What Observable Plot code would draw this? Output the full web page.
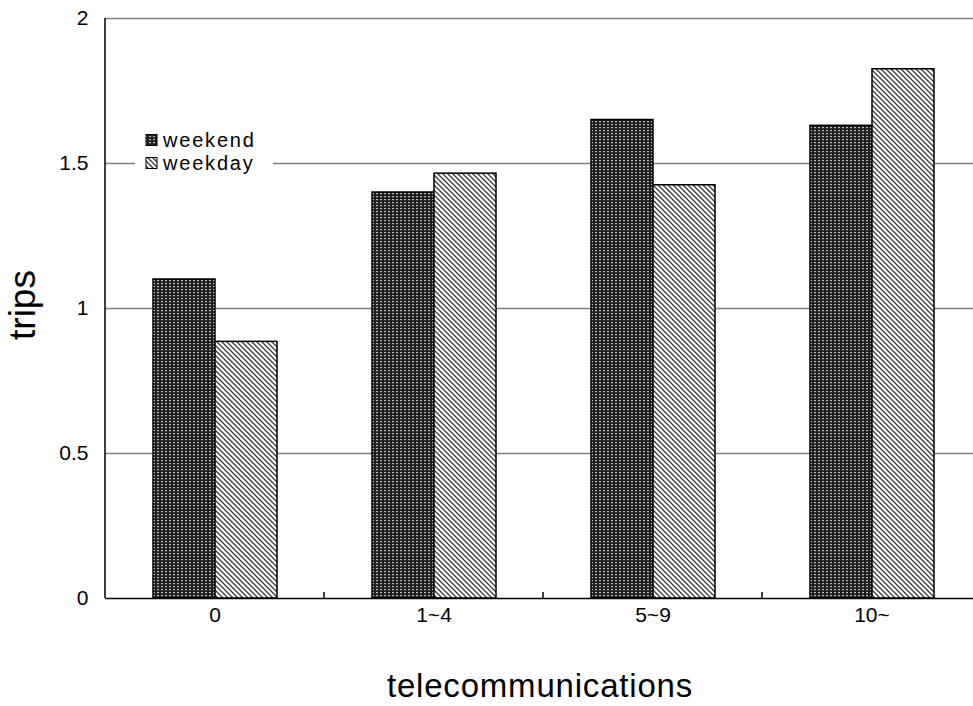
<!DOCTYPE html>
<html><head><meta charset="utf-8">
<script src="https://cdn.jsdelivr.net/npm/d3@7"></script>
<script src="https://cdn.jsdelivr.net/npm/@observablehq/plot@0.6"></script>
<style>body{margin:0;background:#fff}</style>
</head><body><div id="chart"></div>
<script>
const categories = ["0", "1~4", "5~9", "10~"];
const series = ["weekend", "weekday"];
const weekend = [1.10, 1.40, 1.65, 1.63];
const weekday = [0.885, 1.465, 1.425, 1.825];
const yTicks = [0, 0.5, 1, 1.5, 2];
const yTickLabels = ["0", "0.5", "1", "1.5", "2"];
const xTitle = "telecommunications";
const yTitle = "trips";

const rows = categories.flatMap((c, i) => [
  {category: c, series: "weekend", value: weekend[i]},
  {category: c, series: "weekday", value: weekday[i]}
]);

const W = 973, H = 706, mL = 105, mT = 18, mB = 108;
const font = "'Liberation Sans', Arial, sans-serif";

const svg = Plot.plot({
  width: W, height: H,
  marginLeft: mL, marginRight: 0, marginTop: mT, marginBottom: mB,
  style: {fontFamily: font, fontSize: "21px", color: "#000", background: "#fff", overflow: "hidden"},
  fx: {domain: categories, range: [mL, 981], padding: 0, label: null, tickSize: 0, tickPadding: 9, axis: "bottom"},
  x: {domain: series, paddingInner: 0, paddingOuter: 0.74, axis: null},
  y: {domain: [0, 2], ticks: yTicks, tickFormat: d => yTickLabels[yTicks.indexOf(d)], tickSize: 0, tickPadding: 17, label: null},
  marks: [
    Plot.ruleY(yTicks.slice(1), {stroke: "#808080", strokeWidth: 1.5}),
    Plot.barY(rows.filter(d => d.series === "weekend"), {fx: "category", x: "series", y: "value", fill: "url(#pat-weekend)", stroke: "#000", strokeWidth: 1.5}),
    Plot.barY(rows.filter(d => d.series === "weekday"), {fx: "category", x: "series", y: "value", fill: "url(#pat-weekday)", stroke: "#000", strokeWidth: 1.5}),
    Plot.ruleY([0], {stroke: "#000", strokeWidth: 1.5})
  ]
});

const s = d3.select(svg);
const defs = s.insert("defs", ":first-child");
const pw = defs.append("pattern").attr("id", "pat-weekend").attr("patternUnits", "userSpaceOnUse").attr("width", 4).attr("height", 3);
pw.append("rect").attr("width", 4).attr("height", 3).attr("fill", "#1e1e1e");
pw.append("rect").attr("x", 1).attr("y", 1).attr("width", 2).attr("height", 1.2).attr("fill", "#bdbdbd");
const pd = defs.append("pattern").attr("id", "pat-weekday").attr("patternUnits", "userSpaceOnUse").attr("width", 5).attr("height", 5);
pd.append("rect").attr("width", 5).attr("height", 5).attr("fill", "#fff");
pd.append("path").attr("d", "M-1,-1L6,6M-1,4L1,6M4,-1L6,1").attr("stroke", "#3a3a3a").attr("stroke-width", 1.3);

const y = svg.scale("y");
const fx = svg.scale("fx");
const y0 = y.apply(0), y2 = y.apply(2);

// left axis line
s.append("line").attr("x1", mL).attr("x2", mL).attr("y1", y2).attr("y2", y0).attr("stroke", "#000").attr("stroke-width", 1.5);
// category boundary ticks
categories.slice(1).forEach(c => {
  const x = fx.apply(c);
  s.append("line").attr("x1", x).attr("x2", x).attr("y1", y0 - 6).attr("y2", y0).attr("stroke", "#000").attr("stroke-width", 1.5);
});

// legend
const lg = s.append("g").attr("font-family", font).attr("font-size", 20).attr("text-anchor", "start").attr("letter-spacing", "1.8px");
lg.append("rect").attr("x", 135).attr("y", 128).attr("width", 138).attr("height", 46).attr("fill", "#fff");
series.forEach((name, i) => {
  const cy = 140 + i * 23;
  lg.append("rect").attr("x", 146).attr("y", cy - 5.5).attr("width", 11).attr("height", 11)
    .attr("fill", `url(#pat-${name})`).attr("stroke", "#000").attr("stroke-width", 1);
  lg.append("text").attr("x", 163).attr("y", cy).attr("dy", "0.35em").text(name);
});

// axis titles
s.append("text").attr("transform", "translate(35,305) rotate(-90)").attr("text-anchor", "middle")
  .attr("font-family", font).attr("font-size", 37).text(yTitle);
s.append("text").attr("x", 540).attr("y", 697).attr("text-anchor", "middle").attr("letter-spacing", "0.8px")
  .attr("font-family", font).attr("font-size", 33).text(xTitle);

document.getElementById("chart").appendChild(svg);
</script>
</body></html>
